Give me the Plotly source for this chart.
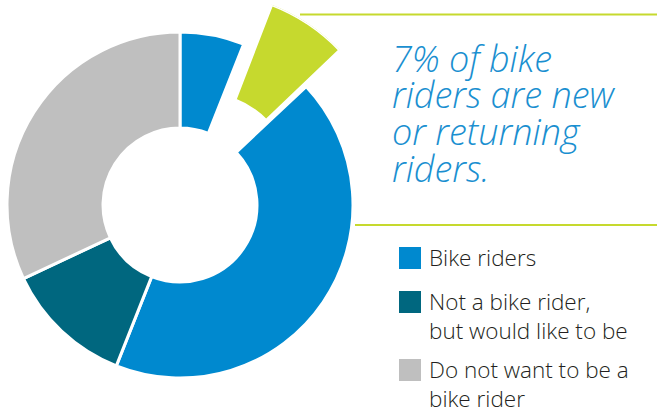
import math
import plotly.graph_objects as go

# ---- data ----
categories = ["Bike riders", "Not a bike rider,<br>but would like to be", "Do not want to be a<br>bike rider"]
shares = [56, 12, 32]            # percent of people
new_returning = 7               # percent: new or returning bike riders (part of bike riders)
bike_before_new = 6             # part of the bike-rider slice drawn before the highlighted segment
callout_lines = ["7% of bike", "riders are new", "or returning", "riders."]

colors = ["#0089cf", "#00677f", "#bfbfbf"]
green = "#c6d92e"

W, H = 657, 412
cx, cy, r = 180, 205, 173       # donut centre / radius in px
hole = 0.445
# highlighted (pulled-out, enlarged) segment, drawn in a polar sector
cx2, cy2, R2 = 204, 180, 188
hole2 = 0.457
sector = [40, 72]

def dom(cxp, cyp, rad):
    return dict(x=[(cxp - rad) / W, (cxp + rad) / W],
                y=[(H - (cyp + rad)) / H, (H - (cyp - rad)) / H])

rest_bike = shares[0] - bike_before_new - new_returning
vals1 = [bike_before_new, new_returning, rest_bike, shares[1], shares[2]]
cols1 = [colors[0], "rgba(0,0,0,0)", colors[0], colors[1], colors[2]]
lw1 = [3, 0, 3, 3, 3]

fig = go.Figure()
fig.add_trace(go.Pie(
    values=vals1, labels=["a", "b", "c", "d", "e"], sort=False, direction="clockwise",
    rotation=0, hole=hole, textinfo="none", hoverinfo="skip", showlegend=False,
    marker=dict(colors=cols1, line=dict(color="white", width=lw1)),
    domain=dom(cx, cy, r),
))

start_deg = bike_before_new / 100 * 360 - 0.5
span_deg = new_returning / 100 * 360
fig.add_trace(go.Barpolar(
    theta=[start_deg + span_deg / 2], width=[span_deg], r=[1 - hole2], base=[hole2],
    marker=dict(color=green, line=dict(color="white", width=3)),
    hoverinfo="skip", showlegend=False,
))

pd_x = [cx2 / W, (cx2 + math.cos(math.radians(sector[0])) * R2) / W]
pd_y = [(H - cy2) / H, (H - (cy2 - math.sin(math.radians(sector[1])) * R2)) / H]

shapes = [
    dict(type="line", xref="paper", yref="paper", x0=300 / W, x1=1, y0=(H - 14.5) / H, y1=(H - 14.5) / H,
         line=dict(color=green, width=2), layer="below"),
    dict(type="line", xref="paper", yref="paper", x0=355 / W, x1=1, y0=(H - 225) / H, y1=(H - 225) / H,
         line=dict(color=green, width=2)),
]
annotations = []
# callout text
base_y = 58
for i, line in enumerate(callout_lines):
    yy = base_y + i * 36.7
    annotations.append(dict(text=line, xref="paper", yref="paper", x=391 / W, y=(H - yy) / H,
                            xanchor="left", yanchor="middle", showarrow=False, borderpad=0,
                            font=dict(family="Open Sans", size=36, color="#1a8fd0", style="italic", weight=300)))
# legend
sq_tops = [247, 291, 359]
for cat, col, top in zip(categories, colors, sq_tops):
    shapes.append(dict(type="rect", xref="paper", yref="paper", x0=399 / W, x1=421 / W,
                       y0=(H - top - 22) / H, y1=(H - top) / H, fillcolor=col, line=dict(width=0)))
    annotations.append(dict(text=cat, xref="paper", yref="paper", x=428 / W, y=(H - top + 6) / H,
                            xanchor="left", yanchor="top", align="left", showarrow=False, borderpad=0,
                            font=dict(family="Open Sans", size=22.5, color="#231f20", weight=300)))

fig.update_layout(
    width=W, height=H, margin=dict(l=0, r=0, t=0, b=0),
    paper_bgcolor="white", plot_bgcolor="white",
    polar=dict(domain=dict(x=pd_x, y=pd_y), sector=sector, hole=0, bgcolor="rgba(0,0,0,0)",
               angularaxis=dict(direction="clockwise", rotation=90, visible=False, showgrid=False),
               radialaxis=dict(range=[0, 1], visible=False, showgrid=False)),
    shapes=shapes, annotations=annotations)
fig.write_html("out.html")
